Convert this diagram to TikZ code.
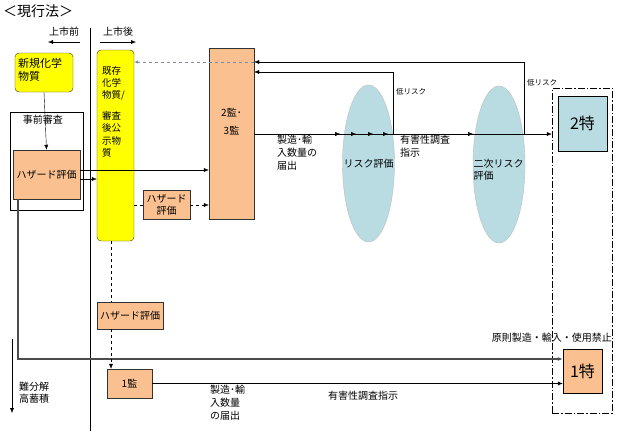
\documentclass[tikz,border=0pt]{standalone}
\usepackage{fontspec}
\setmainfont{Noto Sans CJK JP}
\usetikzlibrary{arrows.meta,shapes.geometric,decorations.markings}
\definecolor{peach}{HTML}{FAC090}
\definecolor{teal1}{HTML}{B8DCE2}
\definecolor{ylw}{HTML}{FFFF00}
\definecolor{dashc}{HTML}{7F8CA8}
\tikzset{
  tip/.style={-{Latex[length=5pt,width=4pt]}},
  pbox/.style={draw=black!80, fill=peach, inner sep=0pt, align=center},
  ybox/.style={draw=black!80, fill=ylw, rounded corners=4pt, inner sep=0pt},
  ell/.style={ellipse, draw=black!25, fill=teal1, inner sep=0pt},
  lbl/.style={font=\fontsize{10}{13}\selectfont, inner sep=0pt, align=left},
  small/.style={font=\fontsize{7.5}{8}\selectfont, inner sep=0pt},
}
\begin{document}
\begin{tikzpicture}[x=1pt,y=-1pt]
\useasboundingbox (0,0) rectangle (621,431);
\fill[white] (0,0) rectangle (621,431);

% title and headers
\node[anchor=west, inner sep=0pt, font=\fontsize{14}{15}\selectfont] (title) at (3,11) {＜現行法＞};
\node[lbl] (pre) at (64,32) {上市前};
\node[lbl] (post) at (118,32) {上市後};
\coordinate (preA) at (80,42); \coordinate (preB) at (48,42);
\coordinate (postA) at (100,42); \coordinate (postB) at (136,42);
\draw[tip] (preA) -- (preB);
\draw[tip] (postA) -- (postB);
\coordinate (vT) at (90,28); \coordinate (vB) at (90,431);
\draw (vT) -- (vB);

% left column
\node[ybox, minimum width=58pt, minimum height=39pt] (shinki) at (44,72.5) {};
\node[lbl, anchor=north west, font=\fontsize{11}{13}\selectfont] (shinkiT) at (18,58) {新規化学\\物質};
\node[draw, minimum width=73pt, minimum height=98pt, inner sep=0pt] (jizen) at (46.5,161) {};
\node[lbl] (jizenT) at (43,120) {事前審査};
\node[pbox, minimum width=67pt, minimum height=49pt, font=\fontsize{10}{12}\selectfont] (haz1) at (46.5,174.5) {ハザード評価};

% existing substances column
\node[ybox, minimum width=37pt, minimum height=191pt] (kison) at (115.5,145.5) {};
\node[lbl, anchor=north west, font=\fontsize{9.5}{12.4}\selectfont] (kisonT) at (102,66) {既存\\化学\\物質/\\[8pt]審査\\後公\\示物\\質};

% 2監・3監
\node[pbox, minimum width=45pt, minimum height=171pt] (kan23) at (231.5,133.5) {};
\node[lbl, align=center, font=\fontsize{10}{18}\selectfont] (kan23T) at (231.5,122) {2監･\\3監};
\node[pbox, minimum width=47pt, minimum height=29pt, font=\fontsize{10}{12}\selectfont] (haz2) at (166.5,204.5) {ハザード\\評価};

% ellipses
\node[ell, minimum width=52pt, minimum height=157pt] (ell1) at (368.5,163.5) {};
\node[lbl] (ell1T) at (368.5,164) {リスク評価};
\node[ell, minimum width=52pt, minimum height=157pt] (ell2) at (499,164.5) {};
\node[lbl, anchor=north west, font=\fontsize{10}{12.5}\selectfont] (ell2T) at (473.5,158.5) {二次リスク\\評価};

% right dash-dot box
\node[draw, dash pattern=on 7pt off 2pt on 1.5pt off 2pt, minimum width=60pt, minimum height=325pt, inner sep=0pt] (dbox) at (582,250.5) {};
\node[draw, fill=teal1, minimum width=49pt, minimum height=55pt, inner sep=0pt, font=\fontsize{16}{17}\selectfont] (toku2) at (582.5,123.5) {2特};
\node[pbox, draw=black, minimum width=39pt, minimum height=44pt, font=\fontsize{16}{17}\selectfont] (toku1) at (582.5,371) {1特};
\node[lbl, anchor=east] (kinshi) at (612,338) {原則製造・輸入・使用禁止};

% lower column boxes
\node[pbox, minimum width=66pt, minimum height=27pt, font=\fontsize{10}{12}\selectfont] (haz3) at (130,315.5) {ハザード評価};
\node[pbox, minimum width=45pt, minimum height=29pt, font=\fontsize{10}{12}\selectfont] (kan1) at (129.5,383.5) {1監};

% connectors: left
\draw[tip] (shinki.south) -- (haz1.north);
\draw[tip] (haz1.east |- 0,170) -- (kan23.west |- 0,170);
\draw[tip] (haz1.east |- 0,179) -- (kison.west |- 0,179);
\draw[dashed] (kison.east |- 0,205) -- (haz2.west |- 0,205);
\draw[dashed, tip] (haz2.east |- 0,205) -- (kan23.west |- 0,205);

% main horizontal line with marks
\draw[decoration={markings,
    mark=at position 86pt with {\arrow{Latex[length=5pt,width=4pt]}},
    mark=at position 102pt with {\arrow{Latex[length=5pt,width=4pt]}},
    mark=at position 119pt with {\arrow{Latex[length=5pt,width=4pt]}},
    mark=at position 134pt with {\arrow{Latex[length=5pt,width=4pt]}},
    mark=at position 219pt with {\arrow{Latex[length=5pt,width=4pt]}}},
    postaction={decorate}, tip] (kan23.east |- 0,134) -- (dbox.west |- 0,134);

% low-risk loops
\coordinate (r1a) at (393,134); \coordinate (r1b) at (393,72);
\draw[tip] (r1a) -- (r1b) -- (kan23.east |- r1b);
\coordinate (r2a) at (524,134); \coordinate (r2b) at (524,62);
\draw[tip] (r2a) -- (r2b) -- (kan23.east |- r2b);
\draw[dashc, dashed, line width=0.9pt, -{Latex[length=4pt,width=3.5pt]}] (kan23.east |- r2b) -- (kison.east |- r2b);
\node[small, anchor=west] (low1) at (396,92) {低リスク};
\node[small, anchor=west] (low2) at (527,83) {低リスク};

% labels on upper line
\node[lbl, anchor=north west] (todoke1) at (277,134.5) {製造･輸\\入数量の\\届出};
\node[lbl, anchor=north west] (shiji1) at (400,134.5) {有害性調査\\指示};

% lower connectors
\coordinate (hazDown) at (18,359);
\draw[black!70, line width=1.3pt, tip] (haz1.south -| hazDown) -- (hazDown) -- (toku1.west |- hazDown);
\draw[dashed] (kison.south -| 111,0) -- (haz3.north -| 111,0);
\draw[dashed, tip] (haz3.south -| 111,0) -- (kan1.north -| 111,0);
\draw[tip] (kan1.east) -- (toku1.west |- kan1.east);

\node[lbl, anchor=north west] (todoke2) at (210,384.5) {製造･輸\\入数量\\の届出};
\node[lbl, anchor=west] (shiji2) at (328,396) {有害性調査指示};

% 難分解 高蓄積
\coordinate (ndA) at (12,339); \coordinate (ndB) at (12,413);
\draw[tip] (ndA) -- (ndB);
\node[lbl, anchor=north west, font=\fontsize{10}{11.5}\selectfont] (nanbun) at (19,382) {難分解\\高蓄積};
\end{tikzpicture}
\end{document}
